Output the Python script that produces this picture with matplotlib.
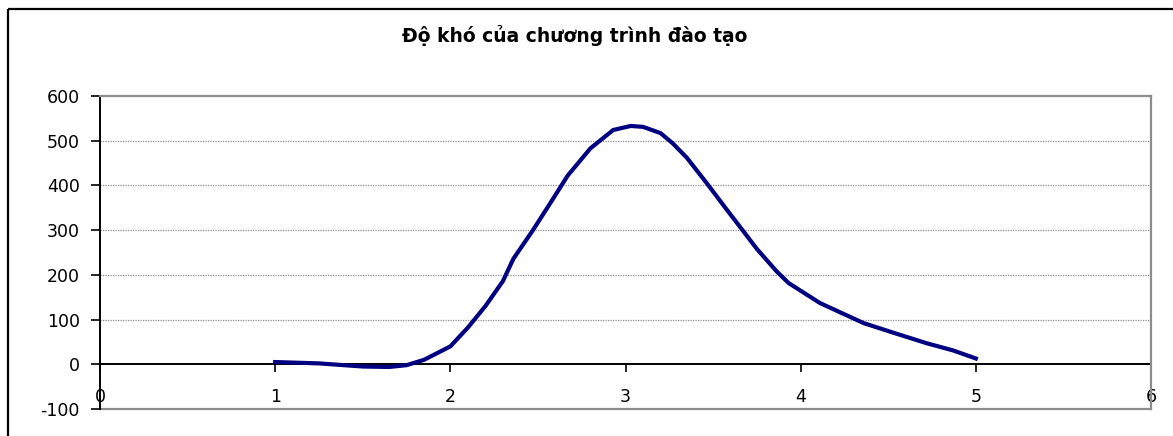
import matplotlib
matplotlib.use("Agg")
import matplotlib.pyplot as plt
from matplotlib.patches import Rectangle

plt.rcParams['font.family'] = ['DejaVu Sans']
plt.rcParams['axes.unicode_minus'] = False

# Đường cong độ khó (điểm đọc dọc theo đường)
do_kho_x = [1.0, 1.25, 1.5, 1.65, 1.75, 1.85, 2.0, 2.1, 2.2, 2.3, 2.36, 2.47, 2.57,
            2.67, 2.8, 2.93, 3.03, 3.1, 3.2, 3.27, 3.35, 3.46, 3.57, 3.67, 3.75,
            3.86, 3.93, 4.11, 4.36, 4.55, 4.72, 4.87, 5.0]
do_kho_y = [5, 2, -5, -6, -2, 10, 40, 82, 130, 186, 236, 299, 360,
            422, 483, 524, 533, 531, 517, 494, 462, 407, 350, 299, 258,
            209, 182, 137, 92, 68, 47, 31, 13]

x_ticks = [0, 1, 2, 3, 4, 5, 6]
y_ticks = [-100, 0, 100, 200, 300, 400, 500, 600]
title = "Độ khó của chương trình đào tạo"

W, H = 1173, 436
fig = plt.figure(figsize=(W / 100, H / 100), dpi=100)

# khung ngoài của biểu đồ
fig.patches.append(Rectangle((8 / W, 1 - 9 / H), 1.2, -1.2, transform=fig.transFigure,
                             fill=False, edgecolor='black', linewidth=1.6))

ax = fig.add_axes([100 / W, 1 - 409 / H, (1151 - 100) / W, (409 - 96) / H])
ax.set_xlim(0, 6)
ax.set_ylim(-100, 600)

# lưới ngang
for v in y_ticks[2:-1]:
    ax.axhline(v, color='#8c8c8c', linewidth=0.9, linestyle=(0, (1, 1)), zorder=1)

ax.plot(do_kho_x, do_kho_y, color='#000080', linewidth=3.0, solid_joinstyle='miter', zorder=3)

# viền vùng vẽ
for s in ['top', 'right']:
    ax.spines[s].set_color('#8c8c8c')
    ax.spines[s].set_linewidth(1.6)
ax.axhline(-100, color='#8c8c8c', linewidth=1.6, zorder=2, clip_on=False)
ax.spines['left'].set_color('black')
ax.spines['left'].set_linewidth(1.4)
ax.spines['bottom'].set_position(('data', 0))
ax.spines['bottom'].set_color('black')
ax.spines['bottom'].set_linewidth(1.4)
ax.spines['bottom'].set_zorder(2)

ax.set_xticks(x_ticks)
ax.set_yticks(y_ticks)
ax.tick_params(axis='x', direction='out', length=5.8, width=1.2, pad=11, labelsize=12.5)
ax.tick_params(axis='y', direction='out', length=6.5, width=1.2, pad=8, labelsize=12.5)

fig.text(575 / W, 1 - 36 / H, title, ha='center', va='center',
         fontsize=13.5, fontweight='bold')

fig.savefig("out.png", dpi=100)
